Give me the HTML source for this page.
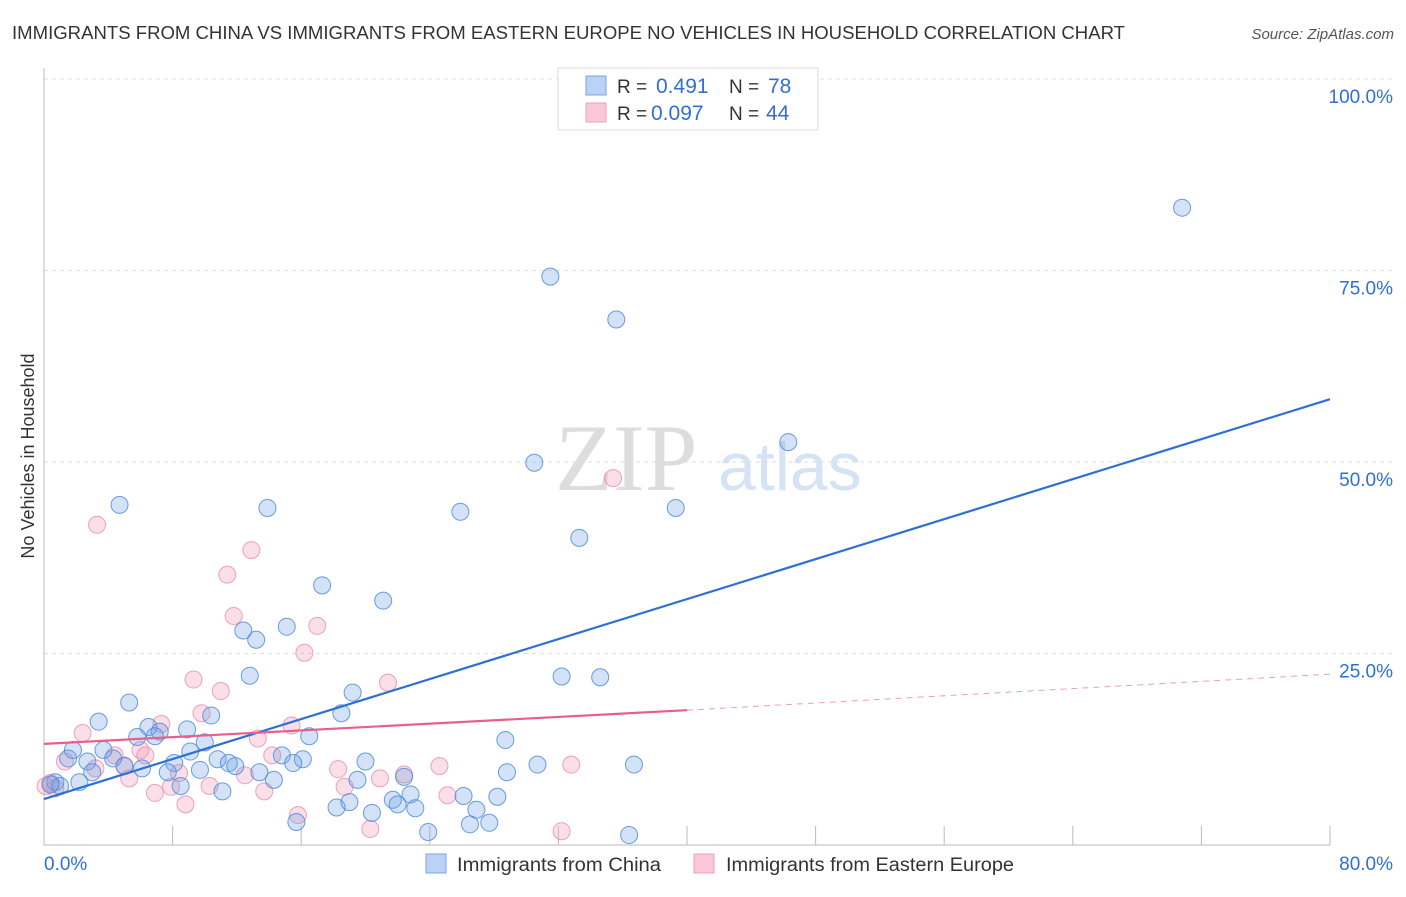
<!DOCTYPE html>
<html><head><meta charset="utf-8"><style>
body{margin:0;background:#fff;font-family:"Liberation Sans",sans-serif;}
svg text{font-family:"Liberation Sans",sans-serif;}
</style></head><body>
<svg id="chart" width="1406" height="892">
<text x="12" y="39" font-size="18" fill="#333" textLength="1113" lengthAdjust="spacingAndGlyphs">IMMIGRANTS FROM CHINA VS IMMIGRANTS FROM EASTERN EUROPE NO VEHICLES IN HOUSEHOLD CORRELATION CHART</text>
<text x="1394" y="39" font-size="15" fill="#555" font-style="italic" text-anchor="end">Source: ZipAtlas.com</text>
<text x="34" y="456" font-size="18" fill="#333" text-anchor="middle" transform="rotate(-90 34 456)">No Vehicles in Household</text>
<g><text x="555" y="490" font-size="95" fill="#ddd" font-family="Liberation Serif" style="font-family:'Liberation Serif',serif">ZIP</text><text x="718" y="490" font-size="68" fill="#d5e3f5">atlas</text></g>
<g id="grid"></g><g id="pts"></g><g id="lines"></g>
<g>
<rect x="558" y="68" width="260" height="62" fill="#fff" stroke="#ddd"/>
<rect x="586" y="76" width="20" height="19" fill="#b8d3f5" stroke="#7aa6e0"/>
<rect x="586" y="103" width="20" height="19" fill="#f9c9d8" stroke="#f0a0b8"/>
<text x="617" y="93" font-size="19" fill="#333">R = </text><text x="656" y="93" font-size="21" fill="#2f6fd6">0.491</text>
<text x="729" y="93" font-size="19" fill="#333">N = </text><text x="768" y="93" font-size="21" fill="#2f6fd6">78</text>
<text x="617" y="120" font-size="19" fill="#333">R = </text><text x="651" y="120" font-size="21" fill="#2f6fd6">0.097</text>
<text x="729" y="120" font-size="19" fill="#333">N = </text><text x="766" y="120" font-size="21" fill="#2f6fd6">44</text>
</g>
<g>
<rect x="426" y="854" width="20" height="19" fill="#b8d3f5" stroke="#7aa6e0"/>
<text x="457" y="871" font-size="19" fill="#333" textLength="204" lengthAdjust="spacingAndGlyphs">Immigrants from China</text>
<rect x="694" y="854" width="20" height="19" fill="#f9c9d8" stroke="#f0a0b8"/>
<text x="726" y="871" font-size="19" fill="#333" textLength="288" lengthAdjust="spacingAndGlyphs">Immigrants from Eastern Europe</text>
</g>
</svg>
<script>
const chinaX=[70.8,31.5,35.6,46.3,30.5,4.7,13.9,25.9,39.3,33.3,17.3,21.1,12.4,13.2,15.1,12.8,32.2,34.6,19.2,5.3,10.4,18.5,3.4,6.5,8.9,7.2,16.5,5.8,6.9,10.0,28.7,1.8,3.7,9.1,14.8,4.3,1.5,16.1,10.8,20.0,2.7,8.1,11.5,11.9,15.5,30.7,36.7,5.0,6.1,9.7,13.4,7.7,3.0,28.8,22.4,19.5,14.3,2.2,0.7,1.0,8.5,11.1,22.8,26.1,28.2,21.7,19.0,22.0,18.2,23.1,26.9,20.4,15.7,26.5,27.7,23.9,36.4,0.4];
const chinaY=[83.2,74.2,68.6,52.6,49.9,44.4,44.0,43.5,44.0,40.1,33.9,31.9,28.0,26.8,28.5,22.1,22.0,21.9,19.9,18.6,16.9,17.2,16.1,15.4,15.1,14.8,14.2,14.1,14.2,13.4,13.7,12.4,12.4,12.2,11.7,11.3,11.3,11.2,11.2,10.9,10.9,10.7,10.7,10.3,10.7,10.5,10.5,10.3,10.0,9.8,9.5,9.5,9.5,9.5,8.9,8.5,8.5,8.2,8.2,7.7,7.7,7.0,6.6,6.4,6.3,5.9,5.6,5.3,4.9,4.8,4.6,4.2,3.0,2.7,2.9,1.7,1.3,7.9];
const euroX=[35.4,3.3,12.9,11.4,11.8,17.0,16.2,9.3,21.4,11.0,9.8,7.3,15.4,2.4,13.3,6.0,4.4,6.3,14.2,1.3,5.0,3.2,24.6,32.8,18.3,8.4,22.4,12.5,20.9,5.3,18.7,7.9,10.3,25.1,13.7,6.9,8.8,15.8,20.3,32.2,0.4,0.7,0.1];
const euroY=[47.9,41.8,38.5,35.3,29.9,28.6,25.1,21.6,21.2,20.1,17.2,15.8,15.6,14.6,13.9,12.4,11.7,11.7,11.7,10.9,10.4,10.0,10.3,10.5,9.9,9.4,9.2,9.1,8.7,8.7,7.6,7.6,7.7,6.5,7.0,6.8,5.3,3.9,2.1,1.8,8.1,7.4,7.7];
const chinaTrend=[6.0,58.2];
const euroTrend=[13.2,17.6,22.3];
const yTicks=[25,50,75,100];
const yTickLabels=["25.0%","50.0%","75.0%","100.0%"];
const xTicks=[0,8,16,24,32,40,48,56,64,72,80];
const NS="http://www.w3.org/2000/svg";
const X=v=>44+v*16.075, Y=v=>845-v*7.66;
function mk(t,a,p){const e=document.createElementNS(NS,t);for(const k in a)e.setAttribute(k,a[k]);p.appendChild(e);return e;}
const grid=document.getElementById('grid');
yTicks.forEach((t,i)=>{
 const l=mk('line',{x1:44,x2:1394,y1:Y(t),y2:Y(t),stroke:'#ddd','stroke-dasharray':'4,4'},grid);
 
 
 const tx=mk('text',{x:1393,y:Y(t)+24,'font-size':19,fill:'#2f6fd6','text-anchor':'end'},grid);
 tx.textContent=yTickLabels[i];
 
 
});
let ax=mk('line',{x1:44,x2:44,y1:68,y2:845,stroke:'#bbb'},grid);


ax=mk('line',{x1:44,x2:1330,y1:845,y2:845,stroke:'#bbb'},grid);


xTicks.forEach(t=>{
 const l=mk('line',{x1:X(t),x2:X(t),y1:826,y2:845,stroke:'#bbb'},grid);
 
 
});
let tl=mk('text',{x:44,y:870,'font-size':19,fill:'#2f6fd6'},grid);tl.textContent="0.0%";


tl=mk('text',{x:1393,y:870,'font-size':19,fill:'#2f6fd6','text-anchor':'end'},grid);tl.textContent="80.0%";


const pts=document.getElementById('pts');
euroX.forEach((x,i)=>{
 const c=mk('circle',{cx:X(x),cy:Y(euroY[i]),r:8.5,fill:'rgba(240,150,180,0.3)',stroke:'rgba(235,140,170,0.8)','stroke-width':1},pts);
 
 
});
chinaX.forEach((x,i)=>{
 const c=mk('circle',{cx:X(x),cy:Y(chinaY[i]),r:8.5,fill:'rgba(110,160,230,0.3)',stroke:'rgba(80,140,220,0.85)','stroke-width':1},pts);
 
 
});
const lines=document.getElementById('lines');
let ln=mk('line',{x1:X(0),y1:Y(chinaTrend[0]),x2:X(80),y2:Y(chinaTrend[1]),stroke:'#2f6fd6','stroke-width':2.2},lines);


ln=mk('line',{x1:X(0),y1:Y(euroTrend[0]),x2:X(40),y2:Y(euroTrend[1]),stroke:'#e8608a','stroke-width':2.2},lines);


ln=mk('line',{x1:X(40),y1:Y(euroTrend[1]),x2:X(80),y2:Y(euroTrend[2]),stroke:'#e8a0b8','stroke-width':1,'stroke-dasharray':'6,5'},lines);


</script>
</body></html>
